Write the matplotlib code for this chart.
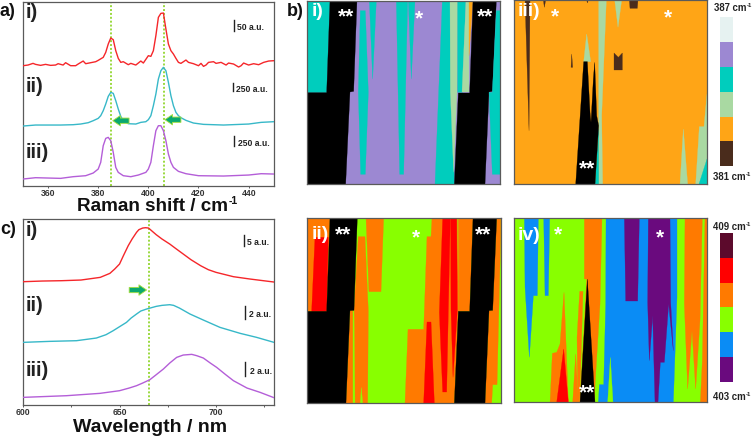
import numpy as np
import matplotlib
matplotlib.use("Agg")
import matplotlib.pyplot as plt
from matplotlib.colors import ListedColormap
from matplotlib.patches import Polygon

plt.rcParams['font.family'] = ['Liberation Sans', 'DejaVu Sans']
W, H = 753, 439

# ---- panel a: Raman spectra
raman_red_x = [350,352,354,355,357,359,361,363,364,366,367,369,371,372,374,375,377,379,380,382,383,384,385,386,387,388,389,390,392,393,395,397,398,400,401,402,403,404,405,406,407,408,409,410,411,412,413,415,416,418,420,421,422,423,424,426,427,429,431,432,434,436,437,438,440,442,444,446,448,450]
raman_red_y = [360,362,367,364,361,364,361,362,366,362,369,360,360,365,374,366,369,372,376,385,400,425,443,438,405,382,370,372,363,367,362,374,368,390,388,405,450,505,517,518,470,425,405,395,382,370,367,377,370,366,360,367,358,362,370,372,367,370,362,368,365,356,360,368,362,366,363,370,374,375]
raman_teal_x = [350,355,360,365,370,373,376,378,380,381,382,383,384,385,386,387,388,389,390,392,395,397,399,400,401,402,403,404,405,406,407,408,409,410,411,412,413,415,418,422,430,440,445,450]
raman_teal_y = [179,182,182,182,183,185,189,195,202,210,225,245,268,280,277,255,230,208,195,186,185,190,192,198,210,240,275,320,345,355,345,310,270,240,220,210,204,196,188,184,182,185,190,192]
raman_violet_x = [350,355,360,365,370,375,378,380,381,382,383,384,385,386,387,388,390,393,396,399,400,401,402,403,404,405,406,407,408,409,410,412,415,420,430,440,445,450]
raman_violet_y = [20,24,23,22,27,30,38,50,70,120,142,145,135,100,55,40,30,27,32,40,50,70,120,165,180,180,165,135,95,70,55,43,36,30,29,32,36,35]
raman_ticks = [360,380,400,420,440]
raman_guides = [385,406.2]

# ---- panel c: photoluminescence spectra
pl_red_x = [600,610,620,630,640,645,647.5,650,652,654.5,656.5,658.8,660,662,663.5,665,667,669,672,676,679,683,687,692,696,700,709,717.6,730]
pl_red_y = [369,371,372,374,382,394,407,422,447,477,497,517,525,530,531,530,520,510,497,482,469,452,435,417,405,397,384,377,368]
pl_teal_x = [600,613.8,627.7,638,643,646.7,650,653.6,656,658.8,661,664,669,672,676,678,681,686.5,693.4,702,712.5,721,730]
pl_teal_y = [187,190,192,200,210,222,234,247,260,272,281,287,295,298,300,298,290,272,254,232,214,202,187]
pl_violet_x = [600,622.5,639.8,650,655,658.8,662,665.7,669,672.7,676,679.6,683,687.4,690,693.4,697,700.3,705,709,716,722.8,730]
pl_violet_y = [22,27,34,42,50,57,65,75,90,107,125,142,149,151,147,140,125,112,90,72,50,37,21]
pl_ticks = [600,625,650,675,700,725]
pl_labels = ['600','','650','','700','']
pl_guide = 665.2

# ---- panel b: map colour levels
top_levels = ['#4a2c1c','#ffa516','#a9d9a2','#00cdbd','#9c88d2','#e6f2f1']
bot_levels = ['#6a0a7e','#0a8cf5','#88ff00','#ff7a00','#ff0000','#5c0a2c']
top_bar = [5,4,3,2,1,0]
bot_bar = [5,4,3,2,1,0]
K = 'k'

# regions: (level, outline) in map coordinates
map_i = [
 (3,[(36,5),(105,5),(95,281),(36,281)]),
 (K,[(105,5),(186,5),(176,277),(165,279),(152,556),(36,556),(36,281),(95,281)]),
 (3,[(196,35),(211,35),(220,280),(211,526),(197,526),(190,280)]),
 (3,[(223,5),(244,5),(233,240)]),
 (3,[(304,5),(338,5),(326,526),(314,526)]),
 (3,[(340,5),(360,5),(349,240)]),
 (3,[(442,5),(465,5),(478,556),(420,556)]),
 (2,[(465,5),(488,5),(486,280),(476,520),(466,280)]),
 (3,[(488,5),(512,5),(503,280),(488,280)]),
 (2,[(512,5),(522,5),(522,280),(500,280)]),
 (1,[(522,5),(534,5),(522,170)]),
 (K,[(534,5),(604,5),(592,277),(582,279),(570,556),(478,556),(490,282),(524,282)]),
 (3,[(604,35),(615,35),(615,526),(592,526),(582,280),(592,280)]),
]
map_iii = [
 (0,[(60,3),(75,3),(72,395)]),
 (0,[(115,3),(122,3),(118,25)]),
 (0,[(245,3),(250,3),(247,12)]),
 (0,[(373,3),(399,3),(397,28),(375,28)]),
 (2,[(281,3),(304,3),(290,350),(293,556),(280,556),(281,360)]),
 (3,[(281,390),(270,556),(281,556)]),
 (2,[(329,3),(350,3),(339,85)]),
 (2,[(245,105),(257,188),(236,188)]),
 (0,[(200,165),(203,205),(198,205)]),
 (0,[(327,162),(340,175),(352,162),(352,213),(327,213)]),
 (K,[(236,188),(247,188),(255,340),(258,370),(265,240),(269,190),(275,350),(281,380),(270,556),(212,556)]),
 (2,[(535,390),(548,556),(525,556)]),
 (2,[(583,383),(597,383),(606,285),(606,556),(572,556)]),
 (3,[(606,480),(606,556),(583,556)]),
]
map_ii = [
 (3,[(37,42),(105,42),(95,322),(37,322)]),
 (4,[(60,100),(100,100),(95,322),(50,322)]),
 (3,[(190,98),(210,98),(220,320),(218,597),(153,597),(165,320),(177,319)]),
 (2,[(174,320),(177,320),(180,597),(174,597)]),
 (2,[(199,550),(203,597),(196,597)]),
 (K,[(105,42),(187,42),(177,319),(165,320),(153,597),(37,597),(37,322),(95,322)]),
 (3,[(213,42),(266,42),(258,263),(222,263)]),
 (3,[(411,42),(487,42),(490,322),(478,597),(330,597),(339,376),(386,376),(396,98),(408,98)]),
 (4,[(443,42),(466,42),(460,320),(455,564),(443,564),(433,325)]),
 (4,[(467,42),(485,42),(487,320),(474,520),(468,320)]),
 (4,[(396,354),(408,354),(418,597),(386,597)]),
 (3,[(490,42),(534,42),(524,322),(490,322)]),
 (3,[(605,42),(617,42),(617,100),(606,542),(593,542),(590,597),(570,597),(582,320),(593,319)]),
 (K,[(534,42),(605,42),(593,319),(582,320),(570,597),(478,597),(490,322),(524,322)]),
]
map_iv = [
 (1,[(58,41),(100,41),(97,275),(85,275),(73,460),(60,250)]),
 (1,[(116,41),(134,41),(130,275),(120,275)]),
 (1,[(303,41),(516,41),(516,280),(505,595),(280,595),(283,542),(296,542),(302,300)]),
 (2,[(316,460),(324,595),(308,595)]),
 (3,[(238,41),(291,41),(285,300),(270,545),(268,595),(225,595),(245,225),(238,225)]),
 (3,[(224,262),(234,262),(224,595),(218,595),(216,400)]),
 (3,[(135,595),(142,448),(155,445),(165,420),(177,265),(190,595)]),
 (4,[(176,435),(190,595),(155,595)]),
 (3,[(212,450),(220,595),(203,595)]),
 (K,[(247,225),(270,595),(225,595)]),
 (0,[(358,41),(403,41),(398,291),(362,291)]),
 (0,[(430,41),(495,41),(497,295),(505,440),(491,300),(478,475),(466,475),(459,595),(450,595),(443,335),(433,470),(428,295)]),
 (3,[(540,41),(592,41),(585,350),(572,555),(561,380),(548,555),(538,300)]),
 (3,[(600,41),(606,41),(606,595),(586,595),(592,470)]),
]

fig = plt.figure(figsize=(W/100, H/100), dpi=100, facecolor='white')
renderer = fig.canvas.get_renderer()

def px_axes(x0, y0, x1, y1):
    return fig.add_axes([x0/W, 1-y1/H, (x1-x0)/W, (y1-y0)/H])

def ftext(x, y, s, **kw):
    kw.setdefault('ha', 'left'); kw.setdefault('va', 'center'); kw.setdefault('fontweight', 'bold')
    return fig.text(x/W, 1-y/H, s, **kw)

def sup_text(x, y, s, sup, fs, fs_sup, rise, color):
    t = ftext(x, y, s, fontsize=fs, color=color)
    right = t.get_window_extent(renderer).x1
    ftext(right + 0.5, y - rise, sup, fontsize=fs_sup, color=color)

FRAME = '#5a5a5a'
def style(ax):
    for s in ax.spines.values():
        s.set_color(FRAME); s.set_linewidth(0.9)
    ax.set_yticks([])
    ax.tick_params(axis='x', length=1.5, width=0.7, color=FRAME, pad=0.4, labelsize=6.2, labelcolor='#333333')
    for t in ax.get_xticklabels():
        t.set_fontweight('bold')

RED, TEAL, VIOLET = '#f5262a', '#37b8c8', '#b45ed8'
GUIDE = '#9ad93e'

def block_arrow(ax, x0, x1, y):
    ax.annotate('', xy=(x1, y), xytext=(x0, y), zorder=6,
                arrowprops=dict(arrowstyle='simple,head_length=0.55,head_width=0.75,tail_width=0.38',
                                fc='#0aa870', ec='#a7e03c', lw=0.6, shrinkA=0, shrinkB=0))

# panel a
ax = px_axes(23, 2.7, 273.7, 186.7)
ax.set_xlim(350, 450); ax.set_ylim(0, 552)
for g in raman_guides:
    ax.axvline(g, color=GUIDE, lw=1.4, ls=(0, (1, 1)), zorder=1)
ax.plot(raman_red_x, raman_red_y, color=RED, lw=1.0, zorder=3)
ax.plot(raman_teal_x, raman_teal_y, color=TEAL, lw=1.0, zorder=3)
ax.plot(raman_violet_x, raman_violet_y, color=VIOLET, lw=1.0, zorder=3)
ax.set_xticks(raman_ticks)
style(ax)
block_arrow(ax, 392.3, 385.8, 195)
block_arrow(ax, 413, 406.6, 198)

# panel c
ax = px_axes(23, 219.7, 274, 405.7)
ax.set_xlim(600, 730); ax.set_ylim(0, 558)
ax.axvline(pl_guide, color=GUIDE, lw=1.4, ls=(0, (1, 1)), zorder=1)
ax.plot(pl_red_x, pl_red_y, color=RED, lw=1.0, zorder=3)
ax.plot(pl_teal_x, pl_teal_y, color=TEAL, lw=1.0, zorder=3)
ax.plot(pl_violet_x, pl_violet_y, color=VIOLET, lw=1.0, zorder=3)
ax.set_xticks(pl_ticks); ax.set_xticklabels(pl_labels)
style(ax)
block_arrow(ax, 655, 664, 344)

# scale-bar notes, spectrum labels
for x, y0, y1, s, tx in [(233.5,20.5,31.5,'50 a.u.',237),(233,84,92,'250 a.u.',236.5),(233.5,137,147,'250 a.u.',237.5),
                         (243.5,236,247,'5 a.u.',247),(245,307,320,'2 a.u.',249),(245,363,377,'2 a.u.',249.5)]:
    fig.add_artist(plt.Line2D([x/W, x/W], [1-y0/H, 1-y1/H], color='#222222', lw=1.0))
    ftext(tx, (y0+y1)/2+1, s, fontsize=6.2, color='#222222')
for x, y, s in [(26,12,'i)'),(26,87,'ii)'),(26,153,'iii)'),(26,231,'i)'),(26,306,'ii)'),(26,371,'iii)')]:
    ftext(x, y, s, fontsize=14.5, color='#222222')
ftext(0, 11, 'a)', fontsize=13, color='#111111')
ftext(0, 230, 'c)', fontsize=13, color='#111111')
ftext(287, 11, 'b)', fontsize=13, color='#111111')
sup_text(77, 207, 'Raman shift / cm', '-1', 13.6, 7.5, 6, '#111111')
ftext(73, 428, 'Wavelength / nm', fontsize=14, color='#111111')

# maps
def draw_map(rect, xr, yr, bg, colors, regions, labels):
    ax = px_axes(*rect)
    ax.set_xlim(*xr); ax.set_ylim(*yr)
    ax.set_facecolor(colors[bg])
    for lvl, pts in regions:
        c = 'black' if lvl == K else colors[lvl]
        ax.add_patch(Polygon(pts, closed=True, fc=c, ec=c, lw=0.2))
    ax.set_xticks([]); ax.set_yticks([])
    for s in ax.spines.values():
        s.set_color(FRAME); s.set_linewidth(0.9)
    for x, y, s, fs in labels:
        ax.text(x, y, s, color='white', fontweight='bold', fontsize=fs, ha='center', va='center')

STAR = 15
dy = 6
draw_map((307,1.7,500,185.3),(36,615),(556,5),4,top_levels,map_i,
         [(68,35,'i)',14),(153,45+dy,'**',STAR),(371,52+dy,'*',STAR),(571,45+dy,'**',STAR)])
draw_map((513.7,1,707,185.3),(26,606),(556,3),1,top_levels,map_iii,
         [(72,35,'iii)',14),(151,45+dy,'*',STAR),(490,48+dy,'*',STAR),(245,500+dy,'**',STAR)])
draw_map((307.3,219,500.7,404),(37,617),(597,42),2,bot_levels,map_ii,
         [(75,90,'ii)',14),(145,84+dy,'**',STAR),(363,92+dy,'*',STAR),(563,84+dy,'**',STAR)])
draw_map((513.7,218.7,707,403.3),(26,606),(595,41),2,bot_levels,map_iv,
         [(72,90,'iv)',14),(160,83+dy,'*',STAR),(464,94+dy,'*',STAR),(246,558+dy,'**',STAR)])

# colour keys
def draw_key(rect, colors, levels):
    ax = px_axes(*rect)
    ax.pcolormesh(np.array(levels)[:, None], cmap=ListedColormap(colors), vmin=-0.5, vmax=5.5)
    ax.invert_yaxis(); ax.axis('off')
draw_key((720.3,18.3,732.7,167.3), top_levels, top_bar)
draw_key((720.3,234,732.7,382.7), bot_levels, bot_bar)
for x, y, s in [(714,8,'387 cm'),(713,177,'381 cm'),(713,227,'409 cm'),(713,397.5,'403 cm')]:
    sup_text(x, y, s, '-1', 6.9, 4.2, 2.5, '#222222')

fig.savefig('out.png', dpi=100)
